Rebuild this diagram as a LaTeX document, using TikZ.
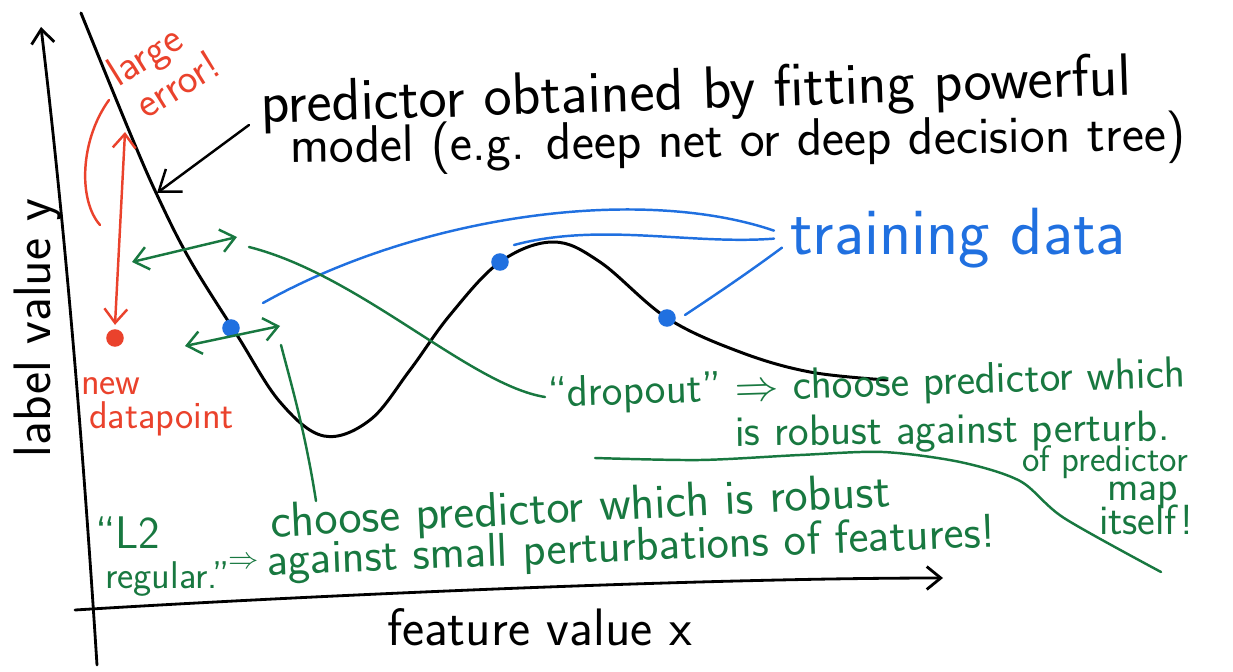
\documentclass[tikz,border=0pt]{standalone}
\usetikzlibrary{arrows.meta,positioning,calc}
\definecolor{penred}{RGB}{234,66,44}
\definecolor{penblue}{RGB}{32,112,224}
\definecolor{pengreen}{RGB}{24,120,64}
\begin{document}
\begin{tikzpicture}[x=0.02cm,y=-0.02cm,line cap=round,line join=round,
 >={Straight Barb[length=8pt,width=13pt]},
 hand/.style={font=\sffamily\fontsize{#1}{#1}\selectfont,inner sep=0pt,outer sep=0pt,anchor=base west},
 hand/.default=24,
 pen/.style={draw=#1,line width=1.4pt},
 pen/.default=black,
 dot/.style={circle,fill=#1,inner sep=0pt,minimum size=10pt}]
\useasboundingbox (0,0) rectangle (1233,672);
% axes
\draw[pen,line width=1.6pt,->] (97,665) .. controls (82,430) and (64,220) .. (41,27);
\draw[pen,line width=1.6pt,->] (75,610) .. controls (300,596) and (700,578) .. (943,578);
\node[hand=30] (xlab) at (387,645) {feature value x};
\node[hand=30,rotate=90] (ylab) at (50,457) {label value y};
% predictor
\draw[pen,line width=1.7pt] plot[smooth,tension=0.6] coordinates {(81,13) (130,133) (158,197) (190,260) (237,335) (280,402) (324,436) (370,420) (410,370) (450,315) (500,262) (553,242) (600,262) (667,318) (740,352) (810,372) (887,380)};
\node[hand=34,rotate=1.85] (pred1) at (261,123) {predictor obtained by fitting powerful};
\node[hand=30,rotate=0.8] (pred2) at (290,163) {model (e.g. deep net or deep decision tree)};
\coordinate (hit) at (157,193);
\draw[pen,->,>={Straight Barb[length=11pt,width=16pt]}] ($(pred1.base west)+(-12,2)$) -- (hit);
% training data
\node[dot=penblue] (d1) at (231,328) {};
\node[dot=penblue] (d2) at (500,262) {};
\node[dot=penblue] (d3) at (667,318) {};
\node[hand=38,text=penblue] (train) at (790,255) {training data};
\coordinate (b1) at ($(d1)+(32,-25)$);
\coordinate (b2) at ($(d2)+(14,-17)$);
\coordinate (b3) at ($(d3)+(18,-3)$);
\draw[pen=penblue] ($(train.west)+(-16,-8)$) .. controls (640,185) and (420,215) .. (b1);
\draw[pen=penblue] ($(train.west)+(-16,0)$) .. controls (690,245) and (600,222) .. (b2);
\draw[pen=penblue] ($(train.west)+(-8,9)$) .. controls (745,275) and (715,295) .. (b3);
% new datapoint and error
\node[dot=penred] (newpt) at (115,338) {};
\node[hand=22,text=penred] (new1) at (81,394) {new};
\node[hand=22,text=penred] (new2) at (89,428) {datapoint};
\node[hand=24,text=penred,rotate=32,align=left,anchor=center] (err) at (163,68) {large\\\hspace{4pt}error!};
\coordinate (errtop) at (125,132);
\draw[pen=penred,<->] (errtop) -- ($(newpt.north)+(0,-4)$);
\coordinate (bracetop) at (109,100);
\coordinate (bracebot) at (100,225);
\draw[pen=penred] (bracetop) .. controls (80,140) and (78,200) .. (bracebot);
% perturbations
\coordinate (wl1) at (132,262);
\coordinate (wr1) at (237,237);
\coordinate (wl2) at (185,346);
\coordinate (wr2) at (280,326);
\draw[pen=pengreen,<->] (wl1) -- (wr1);
\draw[pen=pengreen,<->] (wl2) -- (wr2);
\node[hand=25,text=pengreen,rotate=1.8] (drop1) at (548,407) {``dropout'' $\Rightarrow$ choose predictor which};
\node[hand=25,text=pengreen,rotate=0.7] (drop2) at (735,446) {is robust against perturb.};
\node[hand=21,text=pengreen] (drop3) at (1022,471) {of predictor};
\node[hand=24,text=pengreen] (drop4) at (1107,500) {map};
\node[hand=24,text=pengreen] (drop5) at (1099,534) {itself!};
\coordinate (dropend) at (249,247);
\draw[pen=pengreen] ($(drop1.base west)+(-3,-10)$) .. controls (470,385) and (360,275) .. (dropend);
\node[hand=26,text=pengreen] (l2a) at (95,548) {``L2};
\node[hand=22,text=pengreen] (l2b) at (105,588) {regular.''};
\node[hand=18,text=pengreen] (l2arrow) at (228,568) {$\Rightarrow$};
\node[hand=28,text=pengreen,rotate=2.8] (rob1) at (271,537) {choose predictor which is robust};
\node[hand=27,text=pengreen,rotate=2.2] (rob2) at (267,575) {against small perturbations of features!};
\coordinate (l2end) at (281,345);
\draw[pen=pengreen] ($(rob1.base west)+(45,-36)$) .. controls (305,430) and (290,380) .. (l2end);
% separator
\draw[pen=pengreen] plot[smooth] coordinates {(595,458) (700,460) (800,455) (883,452) (960,462) (1020,481) (1064,518) (1161,572)};
\end{tikzpicture}
\end{document}
